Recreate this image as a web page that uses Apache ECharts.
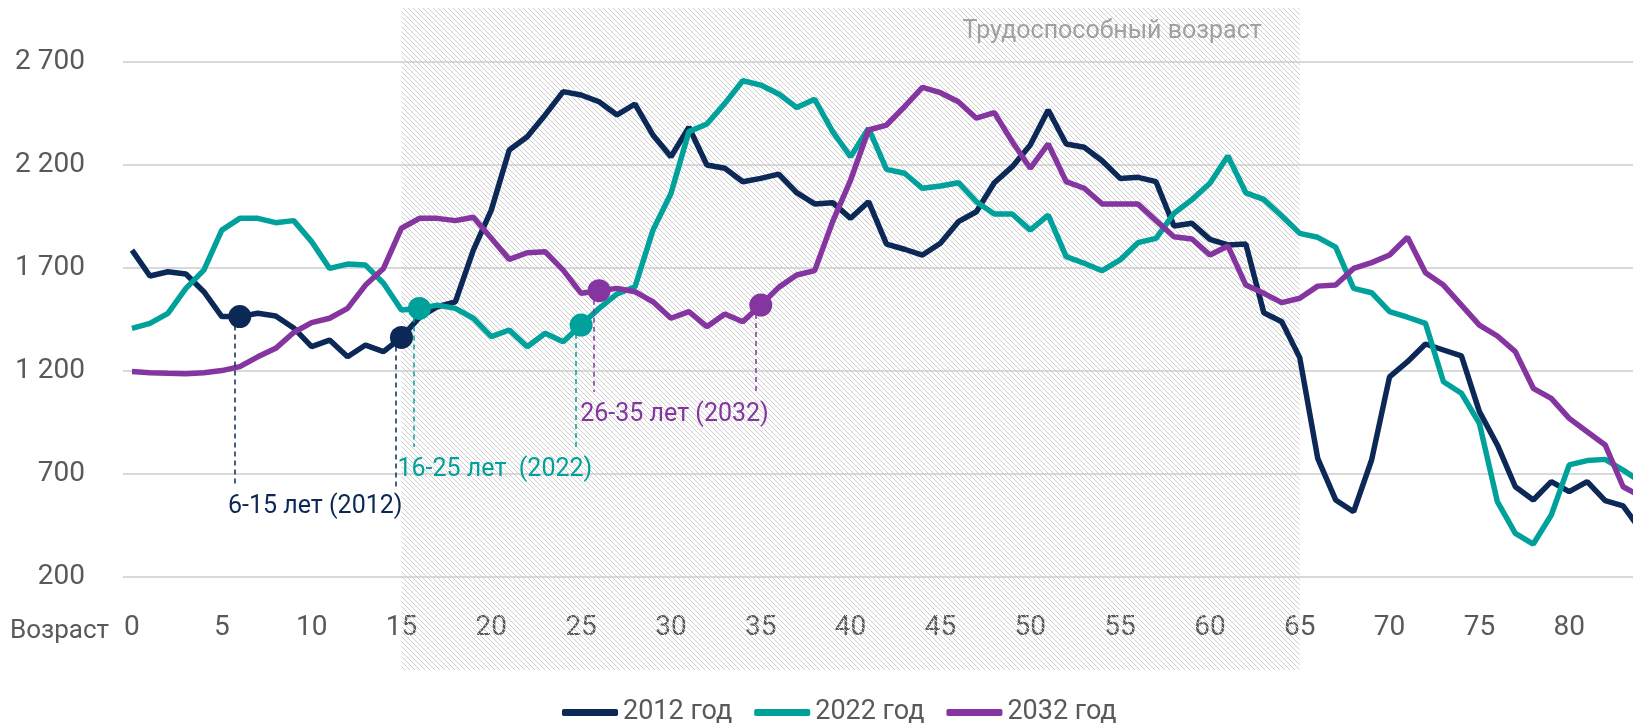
<!DOCTYPE html>
<html>
<head>
<meta charset="utf-8">
<script src="https://cdn.jsdelivr.net/npm/echarts@6/dist/echarts.min.js"></script>
<style>
  html, body { margin: 0; padding: 0; background: #fff; }
  #chart { width: 1633px; height: 723px; }
</style>
</head>
<body>
<div id="chart"></div>
<script>
// возраст (лет)
var ages = [0,1,2,3,4,5,6,7,8,9,10,11,12,13,14,15,16,17,18,19,20,21,22,23,24,25,26,27,28,29,
  30,31,32,33,34,35,36,37,38,39,40,41,42,43,44,45,46,47,48,49,50,51,52,53,54,55,56,57,58,59,
  60,61,62,63,64,65,66,67,68,69,70,71,72,73,74,75,76,77,78,79,80,81,82,83,84];

// численность по возрастам
var pop2012 = [1787,1661,1682,1671,1585,1464,1464,1480,1467,1409,1318,1350,1269,1326,1294,1363,1460,1512,1536,1787,
  1981,2273,2337,2443,2556,2540,2507,2443,2496,2345,2240,2383,2200,2184,2119,2135,2156,2066,2011,2017,
  1941,2022,1816,1791,1763,1820,1925,1973,2114,2192,2297,2467,2302,2286,2221,2135,2140,2119,1904,1917,
  1839,1812,1816,1483,1439,1265,776,574,517,768,1172,1245,1331,1302,1273,1003,841,638,574,663,
  614,663,571,545,425];
var pop2022 = [1407,1431,1480,1601,1690,1884,1941,1941,1920,1930,1828,1698,1719,1714,1626,1496,1504,1520,1504,1456,
  1367,1399,1318,1383,1342,1423,1504,1574,1609,1884,2062,2362,2399,2499,2609,2588,2545,2479,2519,2362,
  2240,2378,2179,2160,2087,2098,2114,2022,1962,1962,1884,1957,1755,1723,1687,1739,1823,1844,1965,2032,
  2111,2244,2065,2033,1952,1868,1849,1801,1601,1580,1488,1461,1431,1148,1092,946,566,412,360,501,
  744,765,771,719,661];
var pop2032 = [1197,1192,1189,1187,1192,1202,1221,1269,1310,1387,1435,1456,1504,1617,1698,1893,1941,1941,1930,1946,
  1844,1742,1774,1779,1690,1577,1590,1601,1585,1536,1456,1488,1415,1477,1439,1520,1606,1666,1687,1925,
  2127,2370,2394,2483,2577,2551,2507,2427,2454,2313,2184,2302,2119,2087,2011,2011,2011,1930,1852,1841,
  1763,1807,1617,1577,1532,1553,1612,1617,1698,1726,1763,1849,1677,1617,1520,1423,1370,1294,1116,1067,
  970,905,841,638,590];

var seriesNames = ['2012 год', '2022 год', '2032 год'];
var yTicks = [200, 700, 1200, 1700, 2200, 2700];
var xTicks = [0, 5, 10, 15, 20, 25, 30, 35, 40, 45, 50, 55, 60, 65, 70, 75, 80];

// выделенные когорты
var groupFrom = [6, 16, 26];
var groupTo = [15, 25, 35];
var groupText = ['6-15 лет (2012)', '16-25 лет  (2022)', '26-35 лет (2032)'];

// трудоспособный возраст
var workFrom = 15, workTo = 65;
var workText = 'Трудоспособный возраст';

// --- оформление ---
var FONT = "Roboto, 'Liberation Sans', sans-serif";
var colors = ['#0c2856', '#00a19b', '#8535a0'];
var dashEnd = [637, 831, 1098];   // где кончается пунктир (по оси Y)
var labelAt = [540, 719, 986];    // где стоит подпись когорты (по оси Y)
var dashShift = -0.3;             // пунктир чуть левее точки, как в оригинале

// штриховка
var hatch = document.createElement('canvas');
hatch.width = 5; hatch.height = 5;
var hctx = hatch.getContext('2d');
hctx.fillStyle = '#cdcdcd';
for (var i = 0; i < 5; i++) hctx.fillRect(i, i, 1, 1);

var allPop = [pop2012, pop2022, pop2032];

var lineSeries = allPop.map(function (vals, k) {
  var a = groupFrom[k], b = groupTo[k];
  var va = vals[ages.indexOf(a)], vb = vals[ages.indexOf(b)];
  return {
    name: seriesNames[k],
    type: 'line',
    data: ages.map(function (x, i) { return [x, vals[i]]; }),
    showSymbol: false,
    lineStyle: { width: 5.5, color: colors[k] },
    itemStyle: { color: colors[k] },
    markLine: {
      silent: true,
      symbol: ['none', 'none'],
      label: { show: false },
      lineStyle: { type: [5, 4], width: 1.5, color: colors[k] },
      data: [
        [{ coord: [a + dashShift, va] }, { coord: [a + dashShift, dashEnd[k]] }],
        [{ coord: [b + dashShift, vb] }, { coord: [b + dashShift, dashEnd[k]] }]
      ]
    },
    markPoint: {
      silent: true,
      data: [
        { coord: [a, va], symbol: 'circle', symbolSize: 23, itemStyle: { color: colors[k] }, label: { show: false } },
        { coord: [b, vb], symbol: 'circle', symbolSize: 23, itemStyle: { color: colors[k] }, label: { show: false } },
        {
          coord: [(a + b) / 2 + dashShift, labelAt[k]], symbol: 'circle', symbolSize: 1,
          itemStyle: { color: 'rgba(0,0,0,0)' },
          label: { show: true, position: 'inside', formatter: groupText[k], color: colors[k], fontSize: 25, fontFamily: FONT }
        }
      ]
    }
  };
});

var bandSeries = {
  type: 'line',
  xAxisIndex: 1,
  yAxisIndex: 1,
  data: [],
  silent: true,
  z: 0,
  markArea: {
    silent: true,
    itemStyle: { color: { image: hatch, repeat: 'repeat' } },
    label: {
      show: true,
      position: 'insideTopRight',
      distance: 0,
      padding: [11, 38, 0, 0],
      formatter: workText,
      color: '#a0a0a0',
      fontSize: 25,
      fontFamily: FONT
    },
    data: [[{ xAxis: workFrom }, { xAxis: workTo }]]
  }
};

var chart = echarts.init(document.getElementById('chart'));
var option = {
  animation: false,
  title: {
    text: 'Возраст',
    left: 10,
    top: 618,
    padding: 0,
    textStyle: { fontSize: 26, color: '#595959', fontWeight: 'normal', fontFamily: FONT }
  },
  legend: {
    data: seriesNames,
    left: 557,
    top: 694,
    icon: 'roundRect',
    itemWidth: 56,
    itemHeight: 7,
    itemGap: 22,
    textStyle: { fontSize: 27, color: '#595959', fontFamily: FONT }
  },
  grid: [
    { left: 123, right: 0, top: 62, bottom: 146 },
    { left: 123, right: 0, top: 8, bottom: 53 }
  ],
  xAxis: [
    {
      type: 'value',
      min: -0.5,
      max: 83.55,
      axisLine: { show: false },
      axisTick: { show: false },
      splitLine: { show: false },
      axisLabel: { customValues: xTicks, margin: 37, fontSize: 28, color: '#595959', fontFamily: FONT }
    },
    { type: 'value', gridIndex: 1, min: -0.5, max: 83.55, show: false }
  ],
  yAxis: [
    {
      type: 'value',
      min: yTicks[0],
      max: yTicks[yTicks.length - 1],
      interval: 500,
      z: 1,
      axisLine: { show: false },
      axisTick: { show: false },
      splitLine: { lineStyle: { color: '#d9d9d9', width: 2 } },
      axisLabel: {
        margin: 38,
        fontSize: 28,
        color: '#595959',
        fontFamily: FONT,
        formatter: function (v) { return String(v).replace(/\B(?=(\d{3})+(?!\d))/g, ' '); }
      }
    },
    { type: 'value', gridIndex: 1, min: 0, max: 1, show: false }
  ],
  series: [bandSeries].concat(lineSeries)
};
chart.setOption(option);
</script>
</body>
</html>
